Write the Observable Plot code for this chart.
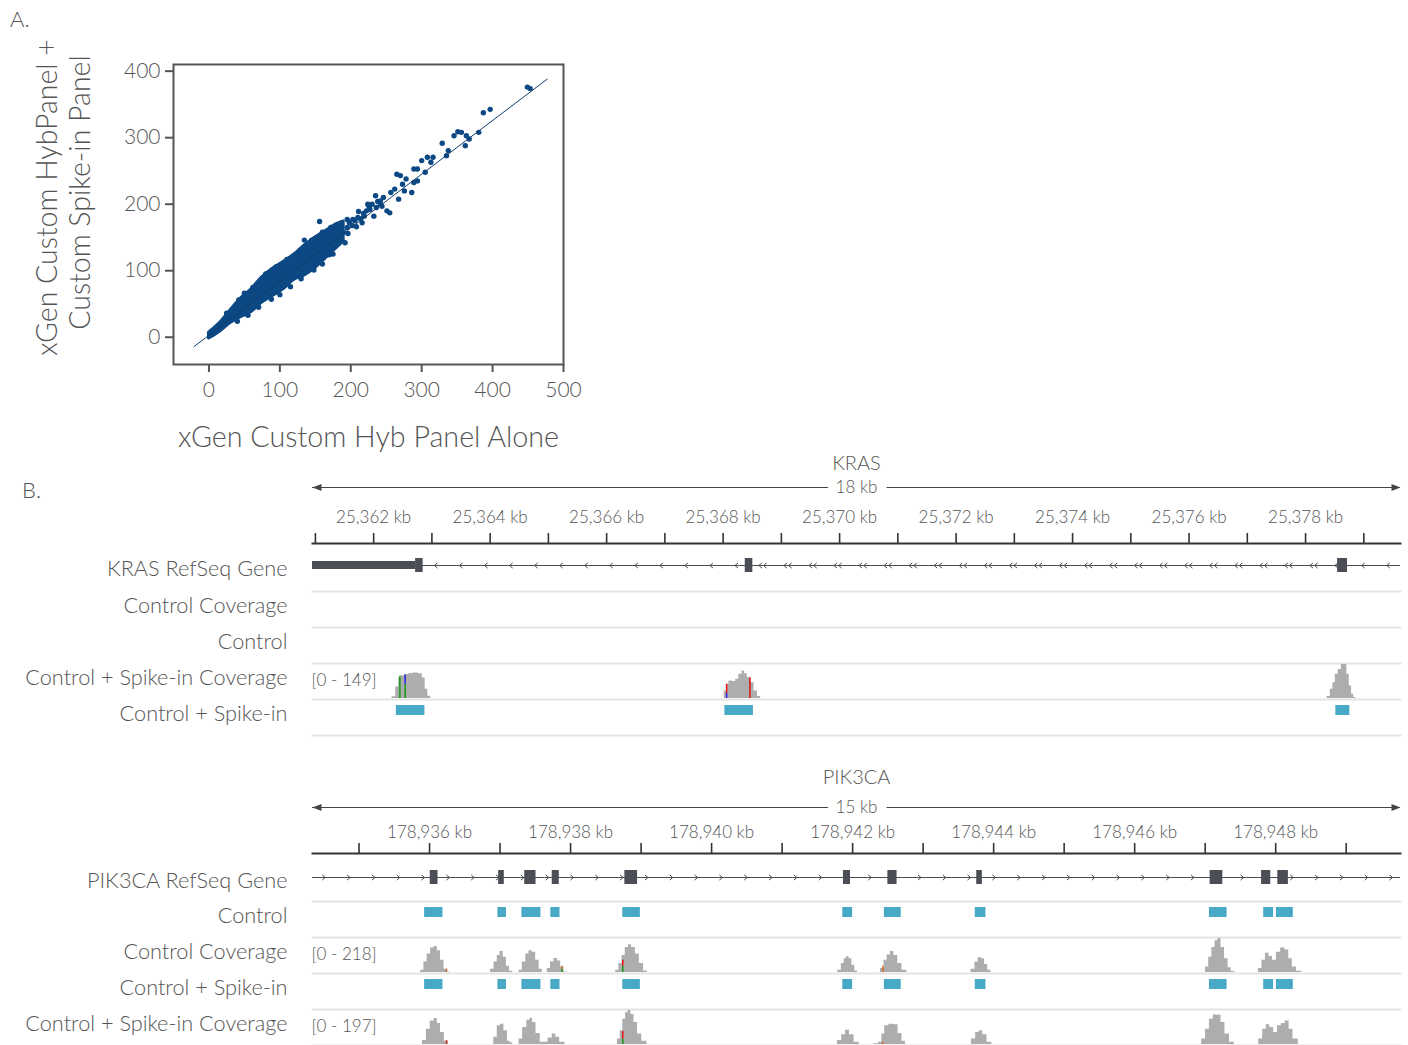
<!DOCTYPE html>
<html><head><meta charset="utf-8">
<script src="https://cdn.jsdelivr.net/npm/d3@7"></script>
<script src="https://cdn.jsdelivr.net/npm/@observablehq/plot@0.6"></script>
<style>
body{margin:0;background:#fff;}
#page{position:relative;width:1408px;height:1045px;overflow:hidden;font-family:Lato,"Open Sans",sans-serif;font-weight:300;color:#555;background:#fff;}
#page svg{overflow:visible;background:transparent !important;}
#page svg text{font-weight:300;}
.letter{position:absolute;font-size:22px;color:#555;line-height:1;font-weight:300;}
</style></head><body><div id="page"></div>
<script>
// ---------------- Panel A data ----------------
const scatterXTicks = [0, 100, 200, 300, 400, 500];
const scatterYTicks = [0, 100, 200, 300, 400];
const fitX = [-21, 477];
const fitY = [-14, 388];
// dense core of the point cloud: lower / upper edge
const bandX  = [0, 15, 30, 45, 60, 75, 90, 105, 120, 135, 150, 165, 180, 190];
const bandLo = [-2, 8, 21, 30, 38, 52, 62, 72, 86, 93, 104, 119, 134, 144];
const bandHi = [7, 21, 40, 58, 72, 90, 103, 113, 124, 138, 150, 160, 170, 174];
// individual points outside / at the edge of the core
const outlierPts = [
 [156,174],[134.5,146],[169.5,124],[192,142],[181,166],[195,177],[203,177],[211,189],[219,182],[227,192],
 [224,200],[232.5,182],[235,212.6],[241.6,205],[244,197],[251,190],[255,187],[246,210],[256.5,217.6],[262,222.7],
 [265,245],[270,243],[267.5,207.6],[273,230],[278,238],[275.6,220],[286,217.6],[289,232.7],[294,235],[294,253],
 [289,253],[305,248],[300,265.5],[308,270.5],[313,263],[316,270.5],[329,291.7],[335,273],[337.5,280.6],[345.6,303],
 [351,309],[356,308],[361.5,288],[363,303],[367,298],[380.5,308],[387,337.5],[396.6,342.6],[449,376],[453,373.8]
];
const edgePts = [
 [186,150],[190,158],[195,165],[196,156],[198,172],[202,168],[206,175],[208,166],[210,180],[214,178],[216,172],
 [218,186],[222,190],[226,196],[230,200],[236,195],[238,204],[242,200],
 [25,36],[42,56],[50,66],[62,75],[80,95],[95,106],[110,117],[128,130],[145,146],[160,158],[172,165],
 [40,24],[55,33],[70,45],[88,57],[100,64],[115,76],[130,88],[148,101],[160,110],[175,125]
];

// ---------------- Panel B data : KRAS ----------------
const krasDomain = [25360.95, 25379.63];
const krasTicks = d3.range(25361, 25380);
const krasLabels = [25362, 25364, 25366, 25368, 25370, 25372, 25374, 25376, 25378];
const krasUTR = [[25360.95, 25362.72]];
const krasExons = [[25362.72, 25362.85], [25368.38, 25368.51], [25378.55, 25378.72]];
const krasTargets = [[25362.39, 25362.88], [25368.03, 25368.52], [25378.52, 25378.76]];
const krasSpikeCov = [
 [25362.28,0],[25362.35,8],[25362.41,50],[25362.45,90],[25362.49,100],[25362.58,105],[25362.64,110],[25362.72,112],[25362.81,108],[25362.86,90],[25362.91,40],[25362.95,10],[25363.01,0],
 [25368.00,0],[25368.04,33],[25368.07,62],[25368.13,77],[25368.19,74],[25368.24,84],[25368.30,106],[25368.35,120],[25368.39,108],[25368.44,91],[25368.50,69],[25368.56,33],[25368.62,9],[25368.67,0],
 [25378.34,0],[25378.40,9],[25378.45,40],[25378.49,69],[25378.53,106],[25378.59,127],[25378.64,149],[25378.69,149],[25378.73,106],[25378.77,55],[25378.81,19],[25378.84,4],[25378.88,0]
];
const krasSpikeAlleles = [
 [25362.45,0,98,"#119911"],[25362.54,0,62,"#119911"],[25362.54,62,103,"#2020ee"],
 [25368.06,0,22,"#2020ee"],[25368.06,22,62,"#ee1111"],[25368.46,0,91,"#dd1111"]
];

// ---------------- Panel B data : PIK3CA ----------------
const pikDomain = [178934.34, 178949.77];
const pikTicks = d3.range(178935, 178950);
const pikLabels = [178936, 178938, 178940, 178942, 178944, 178946, 178948];
const pikExons = [[178936.01,178936.12],[178936.98,178937.06],[178937.35,178937.51],[178937.74,178937.84],[178938.77,178938.95],
 [178941.87,178941.97],[178942.50,178942.63],[178943.76,178943.84],[178947.07,178947.25],[178947.80,178947.93],[178948.03,178948.18]];
const pikTargets = [[178935.93,178936.19],[178936.97,178937.09],[178937.31,178937.58],[178937.72,178937.85],[178938.74,178938.99],
 [178941.86,178942.00],[178942.45,178942.69],[178943.74,178943.89],[178947.06,178947.31],[178947.83,178947.97],[178948.01,178948.25]];
const pikControlCov = [
 [178935.85,0],[178935.90,15],[178935.94,67],[178935.99,119],[178936.04,157],[178936.09,166],[178936.13,140],[178936.18,78],[178936.23,21],[178936.28,4],[178936.30,0],
 [178936.84,0],[178936.89,21],[178936.94,67],[178936.98,109],[178937.02,134],[178937.07,98],[178937.11,40],[178937.16,8],[178937.20,0],
 [178937.25,0],[178937.29,15],[178937.34,67],[178937.39,119],[178937.43,140],[178937.48,130],[178937.53,78],[178937.58,21],[178937.62,0],
 [178937.65,0],[178937.69,25],[178937.74,67],[178937.79,90],[178937.84,73],[178937.88,36],[178937.93,4],[178937.98,0],
 [178938.62,0],[178938.66,15],[178938.71,57],[178938.75,109],[178938.80,161],[178938.84,178],[178938.89,161],[178938.95,119],[178939.00,57],[178939.07,10],[178939.11,0],
 [178941.76,0],[178941.82,15],[178941.86,57],[178941.90,88],[178941.93,103],[178941.97,88],[178942.01,46],[178942.05,10],[178942.09,0],
 [178942.37,0],[178942.42,25],[178942.47,78],[178942.51,113],[178942.56,134],[178942.61,109],[178942.67,57],[178942.73,15],[178942.81,0],
 [178943.65,0],[178943.71,21],[178943.76,67],[178943.80,94],[178943.85,88],[178943.89,52],[178943.94,15],[178943.98,0],
 [178946.98,0],[178947.03,36],[178947.07,98],[178947.12,161],[178947.16,203],[178947.20,218],[178947.25,161],[178947.30,88],[178947.35,31],[178947.39,6],[178947.45,0],
 [178947.73,0],[178947.78,25],[178947.83,78],[178947.88,124],[178947.93,103],[178947.98,78],[178948.04,130],[178948.10,157],[178948.16,145],[178948.21,88],[178948.26,36],[178948.33,8],[178948.41,0]
];
const pikControlAlleles = [
 [178936.24,0,21,"#d2691e"],[178937.88,0,21,"#119911"],[178937.88,21,40,"#d2691e"],
 [178938.74,0,40,"#119911"],[178938.74,40,78,"#ee1111"],[178942.43,0,40,"#d2691e"]
];
const pikSpikeCov = [
 [178935.87,0],[178935.93,23],[178935.98,89],[178936.04,136],[178936.09,150],[178936.13,121],[178936.18,70],[178936.24,19],[178936.30,0],
 [178936.88,0],[178936.94,42],[178936.98,108],[178937.03,117],[178937.08,80],[178937.13,19],[178937.16,8],[178937.20,0],
 [178937.25,0],[178937.29,32],[178937.35,98],[178937.41,140],[178937.44,152],[178937.48,127],[178937.54,64],[178937.60,13],[178937.65,13],[178937.71,38],[178937.77,61],[178937.81,42],[178937.88,13],[178937.96,0],
 [178938.64,0],[178938.69,32],[178938.72,80],[178938.76,146],[178938.80,184],[178938.83,197],[178938.88,174],[178938.92,127],[178938.98,61],[178939.04,19],[178939.13,0],
 [178941.75,0],[178941.82,23],[178941.87,57],[178941.93,83],[178941.98,57],[178942.06,13],[178942.13,0],
 [178942.26,0],[178942.33,4],[178942.40,13],[178942.43,61],[178942.48,108],[178942.55,117],[178942.62,114],[178942.67,64],[178942.73,19],[178942.77,0],
 [178943.65,0],[178943.72,32],[178943.77,70],[178943.82,80],[178943.87,57],[178943.94,13],[178944.01,0],
 [178946.92,0],[178946.98,32],[178947.03,89],[178947.09,146],[178947.14,171],[178947.20,169],[178947.25,127],[178947.31,61],[178947.38,13],[178947.45,0],
 [178947.73,0],[178947.79,32],[178947.84,89],[178947.89,114],[178947.94,98],[178948.00,70],[178948.05,108],[178948.11,121],[178948.16,136],[178948.22,89],[178948.27,32],[178948.37,0]
];
const pikSpikeAlleles = [
 [178936.24,0,23,"#e0301e"],[178938.74,0,32,"#119911"],[178938.74,32,76,"#ee1111"],[178942.43,0,13,"#d2691e"]
];

// ---------------- styling ----------------
const TEXT = "#555", SEP = "#e4e4e4", GENE = "#4b4f55", TEAL = "#47a9c6", COV = "#adadad", BLUE = "#0b4884";
const FONT = "Lato, 'Open Sans', sans-serif";
const page = document.getElementById("page");
function place(node, top, left = 0) {
  const d = document.createElement("div");
  d.style.position = "absolute"; d.style.top = top + "px"; d.style.left = left + "px";
  d.appendChild(node); page.appendChild(d);
}
function letter(t, x, y) {
  const d = document.createElement("div"); d.className = "letter"; d.textContent = t;
  d.style.left = x + "px"; d.style.top = y + "px"; page.appendChild(d);
}
const sym = (f) => ({draw(ctx, size) { f(ctx, Math.sqrt(size / Math.PI)); }});
const chevL = sym((c, s) => { c.moveTo(s * 0.6, -s); c.lineTo(-s * 0.6, 0); c.lineTo(s * 0.6, s); });
const chevR = sym((c, s) => { c.moveTo(-s * 0.6, -s); c.lineTo(s * 0.6, 0); c.lineTo(-s * 0.6, s); });
const chevLL = sym((c, s) => { for (const o of [-s * 0.9, s * 0.9]) { c.moveTo(o + s * 0.6, -s); c.lineTo(o - s * 0.6, 0); c.lineTo(o + s * 0.6, s); } });
const triL = {draw(c) { c.moveTo(0, 0); c.lineTo(9, -3.5); c.lineTo(9, 3.5); c.closePath(); }};
const triR = {draw(c) { c.moveTo(0, 0); c.lineTo(-9, -3.5); c.lineTo(-9, 3.5); c.closePath(); }};

// ---------------- Panel A ----------------
letter("A.", 10, 8);
const bandIdx = d3.range(bandX.length);
place(Plot.plot({
  width: 600, height: 460, marginLeft: 173, marginRight: 37, marginTop: 64, marginBottom: 96,
  style: {fontFamily: FONT, color: TEXT, background: "transparent", overflow: "visible"},
  x: {domain: [-50, 500]}, y: {domain: [-41, 410]},
  marks: [
    Plot.areaY(bandIdx, {x: i => bandX[i], y1: i => bandLo[i], y2: i => bandHi[i], fill: BLUE, stroke: BLUE, strokeWidth: 3, strokeLinejoin: "round", curve: "catmull-rom"}),
    Plot.dot(edgePts, {x: d => d[0], y: d => d[1], r: 2.7, fill: BLUE}),
    Plot.dot(outlierPts, {x: d => d[0], y: d => d[1], r: 2.7, fill: BLUE}),
    Plot.line([0, 1], {x: i => fitX[i], y: i => fitY[i], stroke: "#123e6e", strokeWidth: 1}),
    Plot.frame({stroke: TEXT, strokeWidth: 2}),
    Plot.axisX(scatterXTicks, {tickSize: 8, tickPadding: 10, fontSize: 21, strokeWidth: 2, label: null}),
    Plot.axisY(scatterYTicks, {tickSize: 8, tickPadding: 5, fontSize: 21, strokeWidth: 2, label: null}),
    Plot.text(["xGen Custom Hyb Panel Alone"], {frameAnchor: "bottom", lineAnchor: "middle", textAnchor: "middle", dy: 73, fontSize: 28.7, fill: TEXT}),
    Plot.text(["xGen Custom HybPanel +"], {frameAnchor: "left", textAnchor: "middle", lineAnchor: "middle", rotate: -90, dx: -126, dy: -17, fontSize: 28.5, fill: TEXT}),
    Plot.text(["Custom Spike-in Panel"], {frameAnchor: "left", textAnchor: "middle", lineAnchor: "middle", rotate: -90, dx: -93, dy: -22, fontSize: 28.5, fill: TEXT})
  ]
}), 0);

// ---------------- Panel B helpers ----------------
letter("B.", 22, 479);
const base = (domain, height) => ({
  width: 1408, height, marginLeft: 312, marginRight: 8, marginTop: 0, marginBottom: 0,
  style: {fontFamily: FONT, color: TEXT, background: "transparent", overflow: "visible"},
  x: {domain, axis: null}
});
const rowLabel = (label, dy = -3) => Plot.text([label], {frameAnchor: "left", textAnchor: "end", lineAnchor: "middle", dx: -25, dy, fontSize: 21.7, fill: TEXT});
const sep = () => Plot.frame({anchor: "bottom", stroke: SEP, strokeWidth: 2});

function header(domain, name, span, ticks, labels, top, o) {
  const mid = (domain[0] + domain[1]) / 2;
  place(Plot.plot({
    ...base(domain, 95), marginTop: 85,
    marks: [
      Plot.tickX(ticks, {x: d => d, stroke: "#333", strokeWidth: 1.6}),
      Plot.frame({anchor: "bottom", stroke: "#333", strokeWidth: 2}),
      Plot.axisX(labels, {anchor: "top", tickSize: 0, tickPadding: o.pad, fontSize: 17, fill: TEXT, tickFormat: d => d3.format(",")(d) + " kb", label: null}),
      Plot.ruleY([0], {y: null, stroke: "#444", strokeWidth: 1, dy: o.arrow}),
      Plot.dot([domain[0]], {x: d => d, symbol: triL, r: 3, fill: "#444", stroke: "none", dy: o.arrow}),
      Plot.dot([domain[1]], {x: d => d, symbol: triR, r: 3, fill: "#444", stroke: "none", dy: o.arrow}),
      Plot.text([{x: mid, t: span}], {x: "x", text: "t", frameAnchor: "middle", lineAnchor: "middle", dy: o.arrow, fontSize: 17, fill: TEXT, stroke: "white", strokeWidth: 20}),
      Plot.text([{x: mid, t: name}], {x: "x", text: "t", frameAnchor: "top", lineAnchor: "middle", dy: o.title, fontSize: 20, fill: TEXT})
    ]
  }), top);
}
function geneTrack(domain, label, top, lineY, g) {
  place(Plot.plot({
    ...base(domain, 48),
    y: {type: "band", domain: ["g"], range: [lineY - 7, lineY + 7], padding: 0, axis: null},
    marks: [
      sep(),
      Plot.ruleY(["g"], {y: d => d, stroke: GENE, strokeWidth: 1}),
      ...g.arrows.map(([pos, s]) => Plot.dot(pos, {x: d => d, y: () => "g", symbol: s, r: 2.6, stroke: GENE, fill: "none", strokeWidth: 1})),
      Plot.barX(g.utr || [], {x1: d => d[0], x2: d => d[1], y: () => "g", fill: GENE, insetTop: 3, insetBottom: 3}),
      Plot.barX(g.exons, {x1: d => d[0], x2: d => d[1], y: () => "g", fill: GENE}),
      rowLabel(label, lineY - 24 + 4)
    ]
  }), top);
}
function featureTrack(domain, label, top, bars) {
  place(Plot.plot({
    ...base(domain, 36),
    marks: [sep(), Plot.rect(bars, {x1: d => d[0], x2: d => d[1], insetTop: 6, insetBottom: 20, fill: TEAL}), rowLabel(label)]
  }), top);
}
function coverageTrack(domain, label, top, cov, alleles, max) {
  const marks = [sep(), rowLabel(label)];
  if (cov) {
    marks.push(
      Plot.areaY(cov, {x: d => d[0], y: d => d[1], fill: COV, curve: "step"}),
      Plot.ruleX(alleles, {x: d => d[0], y1: d => d[1], y2: d => d[2], stroke: d => d[3], strokeWidth: 1.5}),
      Plot.text([`[0 - ${max}]`], {frameAnchor: "left", textAnchor: "start", lineAnchor: "middle", dx: -1, dy: -1, fontSize: 17, fill: TEXT})
    );
  }
  place(Plot.plot({
    ...base(domain, 36),
    color: {type: "identity"},
    y: {domain: [0, max || 1], range: [35, 1], axis: null},
    marks
  }), top);
}

// ---------------- KRAS ----------------
header(krasDomain, "KRAS", "18 kb", krasTicks, krasLabels, 448, {title: -70, arrow: -51, pad: 11});
geneTrack(krasDomain, "KRAS RefSeq Gene", 543, 22, {
  utr: krasUTR, exons: krasExons,
  arrows: [[d3.range(25363.07, 25368.3, 0.43), chevL], [d3.range(25368.68, 25378.6, 0.43), chevLL], [[25378.99, 25379.42], chevL]]
});
coverageTrack(krasDomain, "Control Coverage", 591, null, [], 0);
featureTrack(krasDomain, "Control", 627, []);
coverageTrack(krasDomain, "Control + Spike-in Coverage", 663, krasSpikeCov, krasSpikeAlleles, 149);
featureTrack(krasDomain, "Control + Spike-in", 699, krasTargets);

// ---------------- PIK3CA ----------------
header(pikDomain, "PIK3CA", "15 kb", pikTicks, pikLabels, 758, {title: -66, arrow: -41, pad: 6});
geneTrack(pikDomain, "PIK3CA RefSeq Gene", 853, 24, {
  exons: pikExons, arrows: [[d3.range(178934.50, 178949.75, 0.352), chevR]]
});
featureTrack(pikDomain, "Control", 901, pikTargets);
coverageTrack(pikDomain, "Control Coverage", 937, pikControlCov, pikControlAlleles, 218);
featureTrack(pikDomain, "Control + Spike-in", 973, pikTargets);
coverageTrack(pikDomain, "Control + Spike-in Coverage", 1009, pikSpikeCov, pikSpikeAlleles, 197);
</script></body></html>
